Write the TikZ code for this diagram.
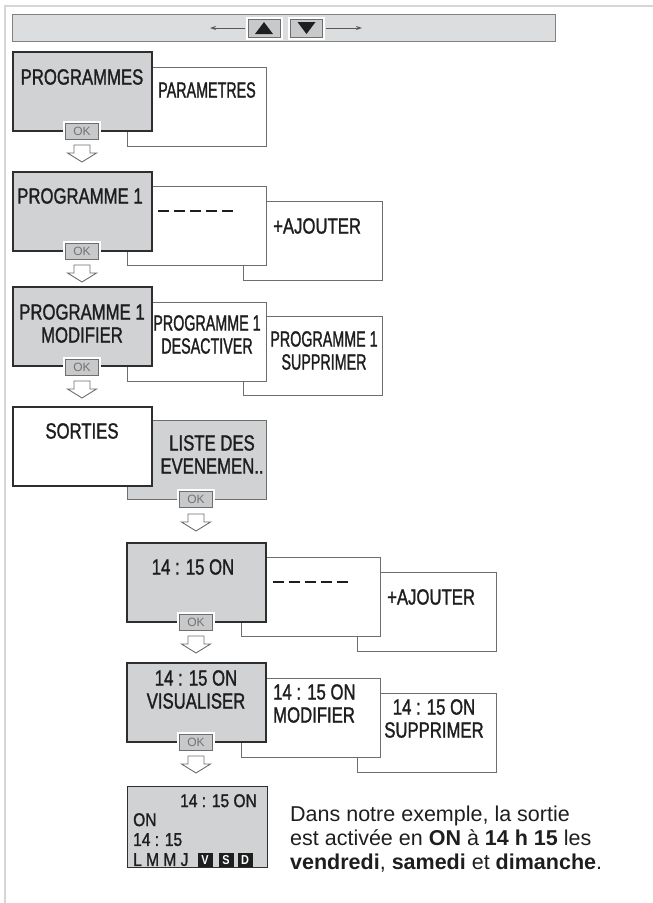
\documentclass[tikz,border=0pt]{standalone}
\usepackage{fontspec}
\setmainfont{Liberation Sans}
\newfontfamily\condfont[FakeStretch=0.76,FakeBold=1.3]{Liberation Sans}
\newfontfamily\narrowfont[FakeStretch=0.65,FakeBold=1.3]{Liberation Sans}
\newfontfamily\dispfont[FakeStretch=0.84,FakeBold=1.3]{Liberation Sans}
\newfontfamily\dayfont[FakeStretch=0.84]{Liberation Sans Bold}
\usetikzlibrary{calc,arrows.meta}
\definecolor{boxgray}{HTML}{D1D2D4}
\definecolor{barfill}{HTML}{DCDDDF}
\definecolor{framecol}{HTML}{D6D6D6}
\definecolor{darkline}{HTML}{2E2E2E}
\definecolor{midline}{HTML}{6E6E6E}
\definecolor{okfill}{HTML}{C8C9CB}
\definecolor{txt}{HTML}{1E1E1E}
\tikzset{
  frontbox/.style={draw=darkline, line width=1.4pt, fill=boxgray, minimum width=139pt, minimum height=79pt, anchor=north west, inner sep=0pt, outer sep=0pt},
  whitefront/.style={frontbox, fill=white},
  backbox/.style={draw=midline, line width=1pt, fill=white, minimum width=139pt, minimum height=79pt, anchor=north west, inner sep=0pt, outer sep=0pt},
  graybackbox/.style={backbox, fill=boxgray},
  lbl/.style={font=\condfont\fontsize{22}{23}\selectfont, text=txt, inner sep=0pt, anchor=north, align=center},
  nlbl/.style={lbl, font=\narrowfont\fontsize{22}{23}\selectfont},
  okbtn/.style={draw=midline, line width=0.8pt, fill=okfill, minimum width=33pt, minimum height=16pt, inner sep=0pt, outer sep=0pt, font=\fontsize{12}{12}\selectfont, text=black!55, preaction={draw=white, line width=5pt}},
  navbtn/.style={draw=midline, line width=0.8pt, fill=okfill, minimum width=32pt, minimum height=18pt, inner sep=0pt, outer sep=0pt, preaction={draw=white, line width=5pt}},
  navarr/.style={draw=black!65, line width=0.9pt, -{Stealth[length=6pt,width=4pt]}},
  dashrow/.style={draw=txt, line width=2.4pt, dash pattern=on 11pt off 5pt},
  disp/.style={font=\dispfont\fontsize{18.5}{20}\selectfont, text=txt, inner sep=0pt},
  daybox/.style={fill=txt, text=white, minimum width=15pt, minimum height=14pt, inner sep=0pt, font=\dayfont\fontsize{13}{13}\selectfont},
  para/.style={font=\fontsize{21.5}{24}\selectfont, text=txt, inner sep=0pt, anchor=base west},
  pics/darrow/.style={code={\draw[draw=midline, line width=0.9pt, fill=white, line join=miter] (-8,0) -- (8,0) -- (8,8) -- (14.5,8) -- (0,17) -- (-14.5,8) -- (-8,8) -- cycle;}}
}
\begin{document}
\begin{tikzpicture}[x=1pt, y=-1pt]
\useasboundingbox (0,0) rectangle (653,903);
% outer frame
\draw[framecol, line width=1.5pt] (653,6) -- (5,6) -- (5,903);
% top bar
\node[draw=black!50, line width=1.3pt, fill=barfill, minimum width=543pt, minimum height=27pt, anchor=north west, inner sep=0pt] (bar) at (12,14) {};
\coordinate (la) at (210,28);
\coordinate (ra) at (362,28);
\node[navbtn] (up) at (264,28) {};
\node[navbtn] (dn) at (306.5,28) {};
\draw[navarr] ($(up.west)+(-3,0)$) -- (la);
\draw[navarr] ($(dn.east)+(3,0)$) -- (ra);
\fill[txt] ($(up.center)+(-9,6)$) -- ++(18,0) -- ++(-9,-12) -- cycle;
\fill[txt] ($(dn.center)+(-9,-6)$) -- ++(18,0) -- ++(-9,12) -- cycle;
% Row 1
\node[backbox] (r1b) at (127,67) {};
\node[frontbox] (r1a) at (13,52) {};
\node[lbl] (t1a) at (82,69) {PROGRAMMES};
\node[nlbl] (t1b) at (207,82) {PARAMETRES};
\node[okbtn] (ok1) at (82,131) {OK};
\pic at ($(ok1.south)+(0,6)$) {darrow};
% Row 2
\node[backbox] (r2c) at (243,201) {};
\node[backbox] (r2b) at (127,186) {};
\node[frontbox] (r2a) at (13,172) {};
\node[lbl] (t2a) at (80,188) {PROGRAMME 1};
\draw[dashrow] ($(r2b.north west)+(31,25)$) -- ++(75,0);
\node[lbl, anchor=north west] (t2c) at (273,218) {+AJOUTER};
\node[okbtn] (ok2) at (82,251) {OK};
\pic at ($(ok2.south)+(0,6)$) {darrow};
% Row 3
\node[backbox] (r3c) at (243,316) {};
\node[backbox] (r3b) at (127,302) {};
\node[frontbox] (r3a) at (13,287) {};
\node[lbl] (t3a) at (82,304) {PROGRAMME 1\\MODIFIER};
\node[nlbl] (t3b) at (207,315) {PROGRAMME 1\\DESACTIVER};
\node[nlbl] (t3c) at (324,331) {PROGRAMME 1\\SUPPRIMER};
\node[okbtn] (ok3) at (82,367) {OK};
\pic at ($(ok3.south)+(0,6)$) {darrow};
% Row 4
\node[graybackbox] (r4b) at (127,420) {};
\node[whitefront] (r4a) at (13,407) {};
\node[lbl] (t4a) at (82,423) {SORTIES};
\node[lbl] (t4b) at (212,435) {LISTE DES\\EVENEMEN..};
\node[okbtn] (ok4) at (196,499) {OK};
\pic at ($(ok4.south)+(0,7)$) {darrow};
% Row 5
\node[backbox] (r5c) at (357,572) {};
\node[backbox] (r5b) at (241,557) {};
\node[frontbox] (r5a) at (127,543) {};
\node[lbl] (t5a) at (193,559) {14 : 15 ON};
\draw[dashrow] ($(r5b.north west)+(32,25)$) -- ++(75,0);
\node[lbl, anchor=north west] (t5c) at (387,589) {+AJOUTER};
\node[okbtn] (ok5) at (196,622) {OK};
\pic at ($(ok5.south)+(0,6)$) {darrow};
% Row 6
\node[backbox] (r6c) at (357,693) {};
\node[backbox] (r6b) at (241,678) {};
\node[frontbox] (r6a) at (127,663) {};
\node[lbl] (t6a) at (196,670) {14 : 15 ON\\VISUALISER};
\node[lbl, anchor=north west, align=left] (t6b) at (273,684) {14 : 15 ON\\MODIFIER};
\node[lbl] (t6c) at (434,699) {14 : 15 ON\\SUPPRIMER};
\node[okbtn] (ok6) at (196,742) {OK};
\pic at ($(ok6.south)+(0,6)$) {darrow};
% Row 7 display
\node[draw=darkline, line width=1.2pt, fill=boxgray, minimum width=140pt, minimum height=81pt, anchor=north west, inner sep=0pt] (disp) at (127,786) {};
\node[disp, anchor=north east] (d1) at (257,794) {14 : 15 ON};
\node[disp, anchor=north west] (d2) at (133,813) {ON};
\node[disp, anchor=north west] (d3) at (133,833) {14 : 15};
\node[disp, anchor=north west] (d4) at (133,853) {L M M J};
\node[daybox] (dv) at (205,860) {V};
\node[daybox] (ds) at (226,860) {S};
\node[daybox] (dd) at (245,860) {D};
% explanation
\node[para] (p1) at (290,821) {Dans notre exemple, la sortie};
\node[para] (p2) at (290,845) {est activée en \textbf{ON} à \textbf{14 h 15} les};
\node[para] (p3) at (290,869) {\textbf{vendredi}, \textbf{samedi} et \textbf{dimanche}.};
\end{tikzpicture}
\end{document}
